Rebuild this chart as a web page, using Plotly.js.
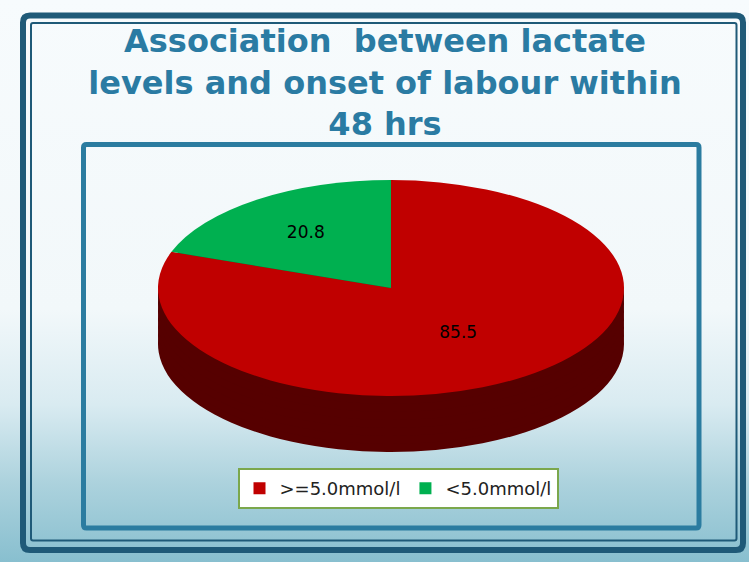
<!DOCTYPE html>
<html><head><meta charset="utf-8">
<script src="https://cdn.plot.ly/plotly-3.0.1.min.js"></script>
<style>
html,body{margin:0;padding:0;}
body{width:749px;height:562px;overflow:hidden;background:linear-gradient(to bottom,#f7fbfd 0%,#f2f8fa 55%,#d9ebf1 72%,#acd2dd 86%,#88bfcf 100%);}
#chart{width:749px;height:562px;}
</style></head><body><div id="chart"></div>
<script>
const categories = ['>=5.0mmol/l', '<5.0mmol/l'];
const values = [85.5, 20.8];
const colors = ['#c00000', '#00b050'];
const sideColors = ['#560000', '#005a28'];
const titleText = 'Association  between lactate<br>levels and onset of labour within<br>48 hrs';

const W = 749, H = 562;
const cx = 391, cy = 288, R = 233, squash = 108 / 233;
const depthOffsets = [56, 48, 40, 32, 24, 16, 8];
const px = x => x / W, py = y => 1 - y / H;
const domain = {x: [px(cx - R), px(cx + R)], y: [py(cy + R), py(cy - R)]};

const traces = [];
depthOffsets.forEach(() => {
  traces.push({type: 'pie', labels: categories, values: values, sort: false,
    direction: 'clockwise', rotation: 0, domain: domain,
    marker: {colors: sideColors, line: {width: 0}}, textinfo: 'none',
    showlegend: false, hoverinfo: 'skip'});
});
traces.push({type: 'pie', labels: categories, values: values, sort: false,
  direction: 'clockwise', rotation: 0, domain: domain,
  marker: {colors: colors, line: {width: 0}},
  textinfo: 'value', textposition: 'inside', insidetextorientation: 'horizontal',
  textfont: {family: 'DejaVu Sans', size: 17, color: '#000'}, showlegend: true});

function rrect(x0, y0, x1, y1, r) {
  const rx = r / W, ry = r / H;
  const X0 = px(x0), X1 = px(x1), Y0 = py(y0), Y1 = py(y1);
  return `M${X0 + rx},${Y0} L${X1 - rx},${Y0} Q${X1},${Y0} ${X1},${Y0 - ry} L${X1},${Y1 + ry} Q${X1},${Y1} ${X1 - rx},${Y1} L${X0 + rx},${Y1} Q${X0},${Y1} ${X0},${Y1 + ry} L${X0},${Y0 - ry} Q${X0},${Y0} ${X0 + rx},${Y0} Z`;
}

const layout = {
  width: W, height: H,
  margin: {l: 0, r: 0, t: 0, b: 0},
  paper_bgcolor: 'rgba(0,0,0,0)', plot_bgcolor: 'rgba(0,0,0,0)',
  title: {text: titleText, x: 385 / W, xanchor: 'center', xref: 'paper',
    y: 1 - 52 / H, yref: 'container', yanchor: 'middle',
    font: {family: 'DejaVu Sans', size: 32, color: '#2a7ba3', weight: 'bold'}},
  showlegend: true,
  legend: {orientation: 'h', x: 398 / W, xanchor: 'center', y: py(468), yanchor: 'top',
    bgcolor: '#ffffff', bordercolor: '#7ba74c', borderwidth: 2,
    font: {family: 'DejaVu Sans', size: 18, color: '#222'}},
  shapes: [
    {type: 'path', xref: 'paper', yref: 'paper', path: rrect(23, 15.5, 743, 550, 7), line: {color: '#1f5a78', width: 6}},
    {type: 'path', xref: 'paper', yref: 'paper', path: rrect(31, 23, 736.5, 540.5, 2), line: {color: '#1f5a78', width: 2}},
    {type: 'path', xref: 'paper', yref: 'paper', path: rrect(83.5, 144.5, 699, 528, 3), line: {color: '#2b7ca0', width: 5}}
  ]
};

Plotly.newPlot('chart', traces, layout, {staticPlot: true}).then(gd => {
  const groups = gd.querySelectorAll('.pielayer > g.trace');
  groups.forEach((g, i) => {
    const off = i < depthOffsets.length ? depthOffsets[i] : 0;
    g.setAttribute('transform', `translate(0,${cy + off}) scale(1,${squash}) translate(0,${-cy})`);
    g.querySelectorAll('g.slicetext text').forEach(t => {
      const bb = t.getBBox();
      let X = bb.x + bb.width / 2, Y = bb.y + bb.height / 2;
      const c = t.transform.baseVal.consolidate();
      if (c) { const m = c.matrix; const nx = m.a * X + m.c * Y + m.e; const ny = m.b * X + m.d * Y + m.f; X = nx; Y = ny; }
      const orig = t.getAttribute('transform') || '';
      t.setAttribute('transform', `translate(${X},${Y}) scale(1,${1 / squash}) translate(${-X},${-Y}) ${orig}`);
    });
  });
});
</script></body></html>
